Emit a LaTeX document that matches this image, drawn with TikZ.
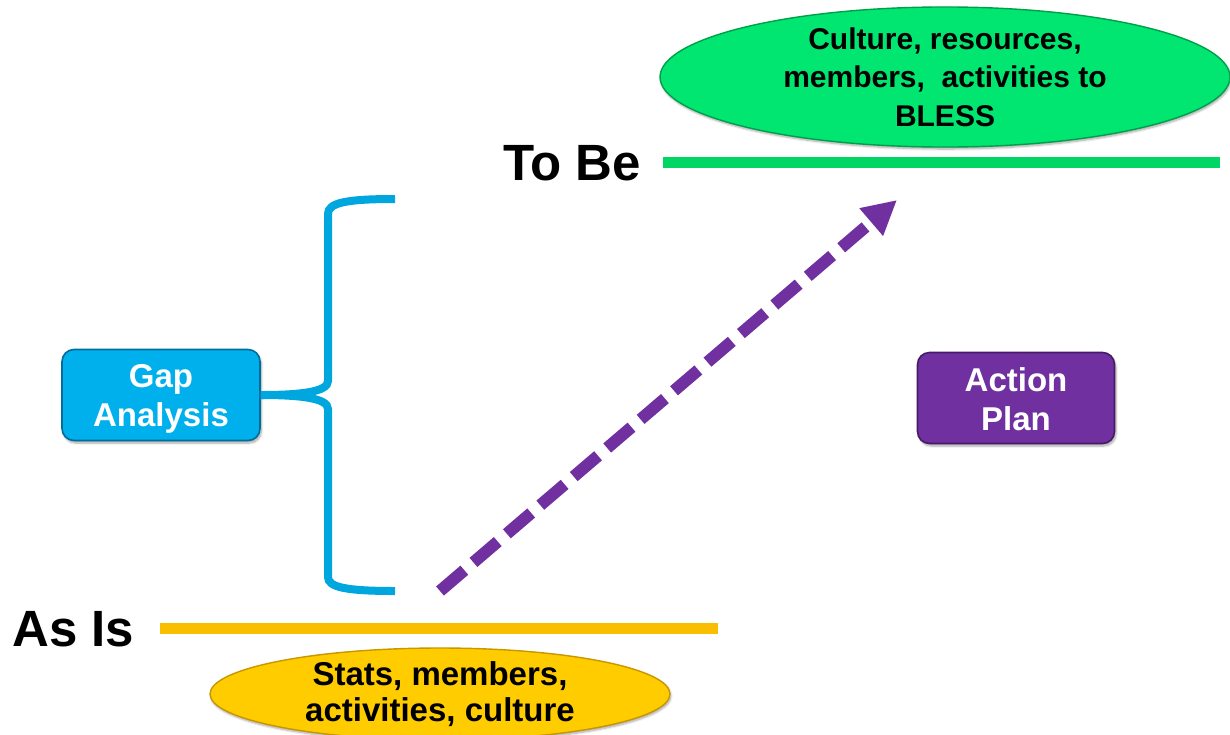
\documentclass[tikz,border=0pt]{standalone}
\usepackage{fontspec}
\setmainfont{Liberation Sans}
\usetikzlibrary{arrows.meta,shapes.geometric,shadows.blur}

\definecolor{tobegreen}{RGB}{0,214,100}
\definecolor{ellgreen}{RGB}{0,230,112}
\definecolor{ellgreenrim}{RGB}{0,160,75}
\definecolor{asisyellow}{RGB}{250,190,0}
\definecolor{ellyellow}{RGB}{255,204,0}
\definecolor{ellyellowrim}{RGB}{200,150,0}
\definecolor{gapblue}{RGB}{0,176,236}
\definecolor{gaprim}{RGB}{0,110,155}
\definecolor{bracecol}{RGB}{0,166,222}
\definecolor{planpurple}{RGB}{112,48,160}
\definecolor{planrim}{RGB}{70,25,105}

\begin{document}
\begin{tikzpicture}[x=1pt,y=-1pt,
  levelline/.style={line width=11pt},
  stagelabel/.style={font=\fontsize{51}{60}\selectfont\bfseries, inner sep=0pt},
  bubble/.style={ellipse, inner sep=0pt, align=center, line width=1.4pt,
    blur shadow={shadow blur steps=6, shadow xshift=1pt, shadow yshift=-2pt, shadow opacity=35}},
  stepbox/.style={rectangle, rounded corners=12pt, inner sep=0pt, align=center,
    line width=1.6pt, text=white,
    font=\fontsize{33}{39}\selectfont\bfseries,
    blur shadow={shadow blur steps=6, shadow xshift=1.5pt, shadow yshift=-2.5pt, shadow opacity=35}},
  bracearm/.style={bracecol, line width=8pt, line cap=butt}]

  \useasboundingbox (0,0) rectangle (1230,734);

  % level labels
  \node[stagelabel, anchor=base west] (tobe) at (503,180) {To Be};
  \node[stagelabel, anchor=base west] (asis) at (12,646) {As Is};

  % level lines
  \coordinate (tobeL) at (663,162);
  \coordinate (tobeR) at (1220,162);
  \coordinate (asisL) at (160,628);
  \coordinate (asisR) at (718,628);
  \draw[levelline, tobegreen] (tobeL) -- (tobeR);
  \draw[levelline, asisyellow] (asisL) -- (asisR);

  % state descriptions
  \node[bubble, fill=ellgreen, draw=ellgreenrim, minimum width=570pt, minimum height=133pt,
        font=\fontsize{30}{38.5}\selectfont\bfseries] (target) at (945,77)
        {Culture, resources,\\members,\ \ activities to\\BLESS};
  \node[bubble, fill=ellyellow, draw=ellyellowrim, minimum width=460pt, minimum height=92pt,
        font=\fontsize{33}{36}\selectfont\bfseries] (current) at (440,694)
        {Stats, members,\\activities, culture};

  % gap analysis box and the brace spanning the gap
  \node[stepbox, fill=gapblue, draw=gaprim, minimum width=198pt, minimum height=91pt] (gap) at (161,395)
        {\rule{0pt}{31pt}Gap\\Analysis};
  \coordinate (braceTop) at (395,199);
  \coordinate (braceBot) at (395,591);
  \draw[bracearm]
    (gap.east) .. controls (300,395) and (328,392) .. (328,381)
    -- (328,214) .. controls (328,203) and (345,199) .. (braceTop);
  \draw[bracearm]
    (gap.east) .. controls (300,395) and (328,398) .. (328,409)
    -- (328,577) .. controls (328,587) and (345,591) .. (braceBot);

  % action plan
  \node[stepbox, fill=planpurple, draw=planrim, minimum width=197pt, minimum height=91pt] (plan) at (1016,398)
        {\rule{0pt}{27pt}Action\\Plan};

  % rising dashed arrow
  \coordinate (riseS) at (440,591);
  \coordinate (riseE) at (897,200);
  \draw[planpurple, line width=12pt, dash pattern=on 32pt off 12pt,
        -{Triangle[length=34pt,width=34pt]}] (riseS) -- (riseE);
\end{tikzpicture}
\end{document}
